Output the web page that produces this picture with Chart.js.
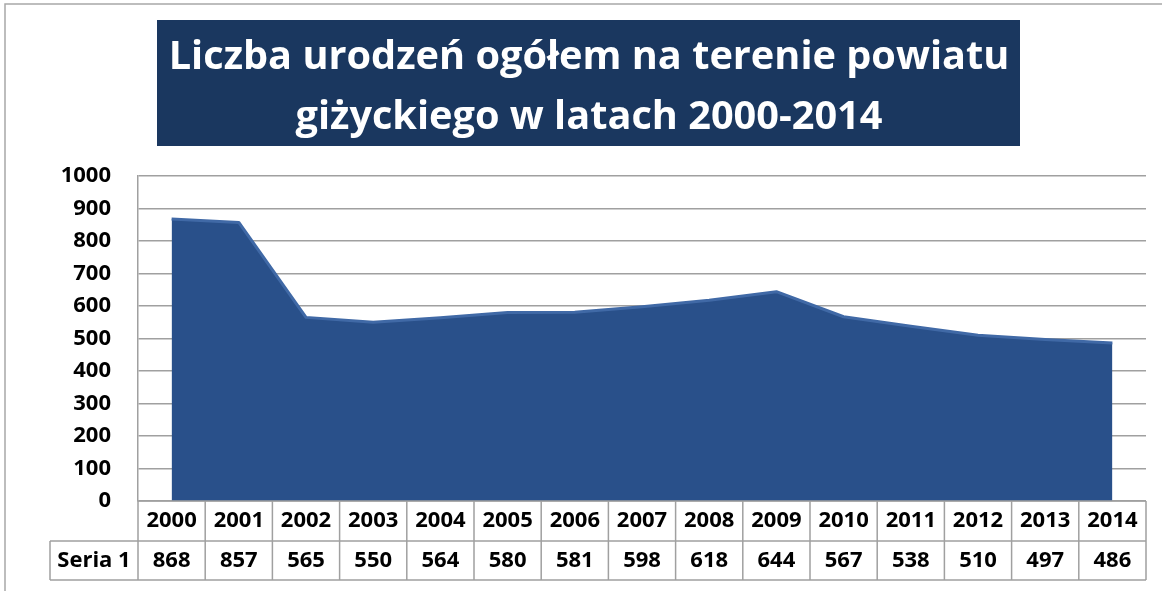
<!DOCTYPE html>
<html>
<head>
<meta charset="utf-8">
<script src="https://cdn.jsdelivr.net/npm/chart.js@4"></script>
<style>
  html, body { margin: 0; padding: 0; background: #fff; }
  #wrap { width: 1162px; height: 591px; position: relative; }
</style>
</head>
<body>
<div id="wrap"><canvas id="chart" width="1162" height="591"></canvas></div>
<script>
const years = ["2000", "2001", "2002", "2003", "2004", "2005", "2006", "2007",
  "2008", "2009", "2010", "2011", "2012", "2013", "2014"];
const births = [868, 857, 565, 550, 564, 580, 581, 598, 618, 644, 567, 538, 510, 497, 486];
const seriesName = "Seria 1";
const titleLines = ["Liczba urodzeń ogółem na terenie powiatu", "giżyckiego w latach 2000-2014"];

const FONT = "'Open Sans', sans-serif";

// ramka, tytuł w granatowym prostokącie i tabela danych pod osią
const extras = {
  id: "extras",
  beforeDraw(chart) {
    const ctx = chart.ctx;
    ctx.save();
    ctx.strokeStyle = "#a8a8a8";
    ctx.lineWidth = 1.5;
    ctx.beginPath();
    ctx.moveTo(5, 600);
    ctx.lineTo(5, 4);
    ctx.lineTo(1170, 4);
    ctx.stroke();

    ctx.fillStyle = "#1a375f";
    ctx.fillRect(157, 20, 863, 126);
    ctx.fillStyle = "#fff";
    ctx.font = "bold 40px " + FONT;
    const w = ctx.measureText(titleLines[0]).width;
    const size = Math.min(40, 40 * 840 / w);
    ctx.font = "bold " + size.toFixed(1) + "px " + FONT;
    ctx.textAlign = "center";
    ctx.textBaseline = "middle";
    ctx.fillText(titleLines[0], 589, 58);
    ctx.fillText(titleLines[1], 589, 118);
    ctx.restore();
  },
  afterDraw(chart) {
    const ctx = chart.ctx;
    const x = chart.scales.x;
    const area = chart.chartArea;
    const step = (area.right - area.left) / years.length;
    const r0 = area.bottom, r1 = r0 + 40, r2 = r1 + 39;
    ctx.save();
    ctx.strokeStyle = "#a0a0a0";
    ctx.lineWidth = 1.5;
    ctx.beginPath();
    ctx.moveTo(area.left, r0); ctx.lineTo(area.right, r0);
    ctx.moveTo(50, r1); ctx.lineTo(area.right, r1);
    ctx.moveTo(50, r2); ctx.lineTo(area.right, r2);
    ctx.moveTo(50, r1); ctx.lineTo(50, r2);
    for (let i = 0; i <= years.length; i++) {
      const px = x.getPixelForTick(Math.min(i, years.length - 1)) + (i < years.length ? -step / 2 : step / 2);
      ctx.moveTo(px, r0); ctx.lineTo(px, r2);
    }
    ctx.stroke();

    ctx.fillStyle = "#000";
    ctx.font = "bold 22px " + FONT;
    ctx.textAlign = "center";
    ctx.textBaseline = "middle";
    years.forEach((y, i) => {
      const px = x.getPixelForTick(i);
      ctx.fillText(y, px, (r0 + r1) / 2);
      ctx.fillText(String(births[i]), px, (r1 + r2) / 2);
    });
    ctx.fillText(seriesName, (50 + area.left) / 2, (r1 + r2) / 2);
    ctx.restore();
  }
};

new Chart(document.getElementById("chart"), {
  type: "line",
  data: {
    labels: years,
    datasets: [
      {
        label: seriesName,
        data: births,
        fill: "origin",
        backgroundColor: "#29508a",
        borderColor: "#4069a6",
        borderWidth: 3,
        borderJoinStyle: "round",
        pointRadius: 0,
        tension: 0,
      },
    ],
  },
  options: {
    responsive: false,
    animation: false,
    layout: { padding: { left: 0, right: 16, top: 176, bottom: 90 } },
    plugins: { legend: { display: false }, tooltip: { enabled: false } },
    scales: {
      x: {
        display: false,
        offset: true,
      },
      y: {
        min: 0,
        max: 1000,
        afterFit(scale) { scale.width = 138; },
        border: { display: true, color: "#a0a0a0", width: 1.5 },
        grid: { color: "#a0a0a0", lineWidth: 1.5, drawTicks: false },
        ticks: {
          stepSize: 100,
          padding: 27,
          color: "#000",
          font: { family: FONT, size: 22, weight: "bold" },
          callback: (v) => String(v),
        },
      },
    },
  },
  plugins: [extras],
});
</script>
</body>
</html>
